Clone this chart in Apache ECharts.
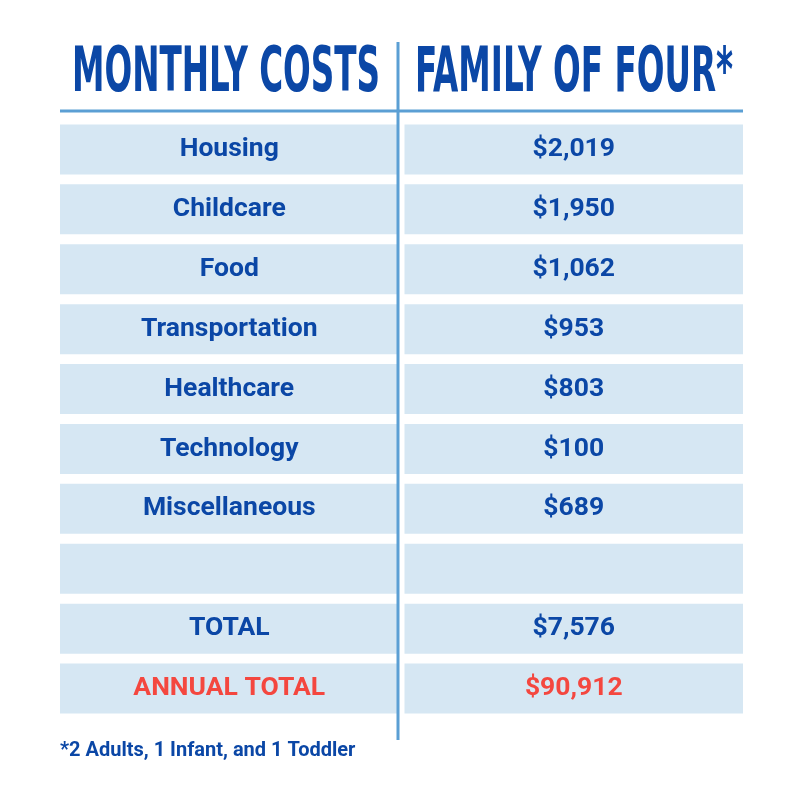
<!DOCTYPE html>
<html><head><meta charset="utf-8">
<script src="https://cdn.jsdelivr.net/npm/echarts@6/dist/echarts.min.js"></script>
<style>html,body{margin:0;background:#fff}#c{width:800px;height:800px}</style>
</head><body><div id="c"></div>
<script>
const headers = ['MONTHLY COSTS', 'FAMILY OF FOUR*'];
const categories = ['Housing','Childcare','Food','Transportation','Healthcare','Technology','Miscellaneous','','TOTAL','ANNUAL TOTAL'];
const costs = ['$2,019','$1,950','$1,062','$953','$803','$100','$689','','$7,576','$90,912'];
const footnote = '*2 Adults, 1 Infant, and 1 Toddler';

const BLUE = '#0b47a6', RED = '#f4473f', CELL = '#d6e7f3', LINE = '#5b9fd4';
const data = [];
categories.forEach((c, i) => {
  data.push([0, i, c]);
  data.push([1, i, costs[i]]);
});
const HFONT = 'bold 62px "Liberation Sans Narrow", "DejaVu Sans Condensed", sans-serif';
const chart = echarts.init(document.getElementById('c'));
chart.setOption({
  animation: false,
  grid: {left: 60, right: 57, top: 119.5, bottom: 81.5},
  xAxis: {type: 'category', data: [0, 1], show: false},
  yAxis: {type: 'category', data: categories.map((_, i) => i), inverse: true, show: false},
  series: [{
    type: 'custom',
    data: data,
    renderItem: function (params, api) {
      const col = api.value(0), row = api.value(1);
      const p = api.coord([col, row]);
      const s = api.size([1, 1]);
      const h = 50;
      const x0 = col === 0 ? p[0] - s[0] / 2 : p[0] - s[0] / 2 + 3;
      const w = s[0] - 3;
      const red = row === categories.length - 1;
      return {
        type: 'group',
        children: [
          {type: 'rect', shape: {x: x0, y: p[1] - h / 2, width: w, height: h}, style: {fill: CELL}},
          {type: 'text', style: {text: api.value(2), x: x0 + w / 2, y: p[1], align: 'center', verticalAlign: 'middle',
            fill: red ? RED : BLUE, font: 'bold 26.5px Roboto, "Liberation Sans", sans-serif'}}
        ]
      };
    }
  }],
  graphic: [
    {type: 'group', x: 226, y: 75, scaleX: 0.585, children: [
      {type: 'text', style: {text: headers[0], x: 0, y: 0, align: 'center', verticalAlign: 'middle', fill: BLUE, font: HFONT}}]},
    {type: 'group', x: 574, y: 75, scaleX: 0.585, children: [
      {type: 'text', style: {text: headers[1], x: 0, y: 0, align: 'center', verticalAlign: 'middle', fill: BLUE, font: HFONT}}]},
    {type: 'line', shape: {x1: 60, y1: 111, x2: 743, y2: 111}, style: {stroke: LINE, lineWidth: 3}},
    {type: 'line', shape: {x1: 398, y1: 42, x2: 398, y2: 740}, style: {stroke: LINE, lineWidth: 3}, z: 10},
    {type: 'text', style: {text: footnote, x: 60, y: 751, verticalAlign: 'middle', fill: BLUE,
      font: 'bold 20px Roboto, "Liberation Sans", sans-serif'}}
  ]
});
</script></body></html>
